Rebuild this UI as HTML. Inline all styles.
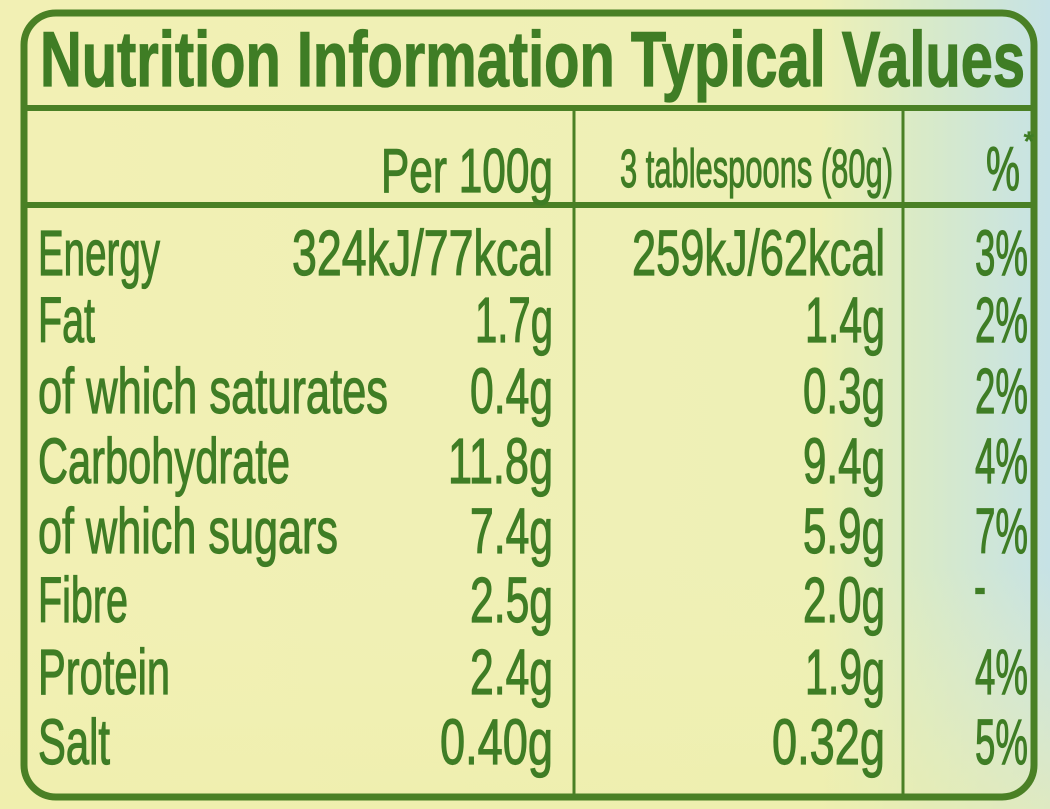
<!DOCTYPE html>
<html><head><meta charset="utf-8"><style>
html,body{margin:0;padding:0;width:1050px;height:809px;overflow:hidden}
svg{display:block}
text{font-family:"Liberation Sans Narrow","Liberation Sans",sans-serif;fill:#3f7d25;stroke:#3f7d25;stroke-width:1.2}
</style></head><body>
<svg width="1050" height="809" viewBox="0 0 1050 809" xmlns="http://www.w3.org/2000/svg">
<defs>
<linearGradient id="bg" x1="0" y1="0" x2="1" y2="0">
<stop offset="0" stop-color="#f2f0b4"/>
<stop offset="0.78" stop-color="#eef0b6"/>
<stop offset="0.88" stop-color="#d8eac8"/>
<stop offset="1" stop-color="#c6e2e6"/>
</linearGradient>
<linearGradient id="bg2" x1="0" y1="0" x2="0" y2="1">
<stop offset="0" stop-color="#ffffff" stop-opacity="0"/>
<stop offset="0.7" stop-color="#f2f0b0" stop-opacity="0"/>
<stop offset="1" stop-color="#eeeeaa" stop-opacity="0.6"/>
</linearGradient>
</defs>
<rect width="1050" height="809" fill="url(#bg)"/>
<rect width="1050" height="809" fill="url(#bg2)"/>
<g stroke="#4a8025" fill="none">
<rect x="24" y="13" width="1010" height="784" rx="32" stroke-width="7"/>
<line x1="24" y1="108" x2="1034" y2="108" stroke-width="6"/>
<line x1="24" y1="205" x2="1034" y2="205" stroke-width="6"/>
<line x1="574" y1="108" x2="574" y2="797" stroke-width="3"/>
<line x1="903" y1="108" x2="903" y2="797" stroke-width="3"/>
</g>
<text x="40" y="86" font-size="78" font-weight="bold" stroke-width="1.5" textLength="985" lengthAdjust="spacingAndGlyphs">Nutrition Information Typical Values</text>
<g font-size="62">
<text x="553" y="192" text-anchor="end" textLength="172" lengthAdjust="spacingAndGlyphs">Per 100g</text>
<text x="893" y="187" text-anchor="end" font-size="54" textLength="273" lengthAdjust="spacingAndGlyphs">3 tablespoons (80g)</text>
<text x="1020" y="190" text-anchor="end" textLength="34" lengthAdjust="spacingAndGlyphs">%</text>
<text x="1034" y="150" text-anchor="end" font-size="26">*</text>
</g>
<g font-size="64">
<text x="38" y="275" textLength="122" lengthAdjust="spacingAndGlyphs">Energy</text>
<text x="38" y="342" textLength="57" lengthAdjust="spacingAndGlyphs">Fat</text>
<text x="38" y="413" textLength="350" lengthAdjust="spacingAndGlyphs">of which saturates</text>
<text x="38" y="483" textLength="252" lengthAdjust="spacingAndGlyphs">Carbohydrate</text>
<text x="38" y="553" textLength="300" lengthAdjust="spacingAndGlyphs">of which sugars</text>
<text x="38" y="622" textLength="90" lengthAdjust="spacingAndGlyphs">Fibre</text>
<text x="38" y="694" textLength="132" lengthAdjust="spacingAndGlyphs">Protein</text>
<text x="38" y="764" textLength="72" lengthAdjust="spacingAndGlyphs">Salt</text>

<g text-anchor="end">
<text x="553" y="275" textLength="261" lengthAdjust="spacingAndGlyphs">324kJ/77kcal</text>
<text x="553" y="342" textLength="78" lengthAdjust="spacingAndGlyphs">1.7g</text>
<text x="553" y="413" textLength="83" lengthAdjust="spacingAndGlyphs">0.4g</text>
<text x="553" y="483" textLength="105" lengthAdjust="spacingAndGlyphs">11.8g</text>
<text x="553" y="553" textLength="83" lengthAdjust="spacingAndGlyphs">7.4g</text>
<text x="553" y="622" textLength="83" lengthAdjust="spacingAndGlyphs">2.5g</text>
<text x="553" y="694" textLength="83" lengthAdjust="spacingAndGlyphs">2.4g</text>
<text x="553" y="764" textLength="113" lengthAdjust="spacingAndGlyphs">0.40g</text>

<text x="885" y="275" textLength="253" lengthAdjust="spacingAndGlyphs">259kJ/62kcal</text>
<text x="885" y="342" textLength="80" lengthAdjust="spacingAndGlyphs">1.4g</text>
<text x="885" y="413" textLength="82" lengthAdjust="spacingAndGlyphs">0.3g</text>
<text x="885" y="483" textLength="82" lengthAdjust="spacingAndGlyphs">9.4g</text>
<text x="885" y="553" textLength="82" lengthAdjust="spacingAndGlyphs">5.9g</text>
<text x="885" y="622" textLength="82" lengthAdjust="spacingAndGlyphs">2.0g</text>
<text x="885" y="694" textLength="80" lengthAdjust="spacingAndGlyphs">1.9g</text>
<text x="885" y="764" textLength="113" lengthAdjust="spacingAndGlyphs">0.32g</text>

<text x="1028" y="275" textLength="53" lengthAdjust="spacingAndGlyphs">3%</text>
<text x="1028" y="342" textLength="53" lengthAdjust="spacingAndGlyphs">2%</text>
<text x="1028" y="413" textLength="53" lengthAdjust="spacingAndGlyphs">2%</text>
<text x="1028" y="483" textLength="53" lengthAdjust="spacingAndGlyphs">4%</text>
<text x="1028" y="553" textLength="53" lengthAdjust="spacingAndGlyphs">7%</text>
<text x="986" y="608" textLength="12" lengthAdjust="spacingAndGlyphs">-</text>
<text x="1028" y="694" textLength="53" lengthAdjust="spacingAndGlyphs">4%</text>
<text x="1028" y="764" textLength="53" lengthAdjust="spacingAndGlyphs">5%</text>
</g>
</g>
</svg>
</body></html>
